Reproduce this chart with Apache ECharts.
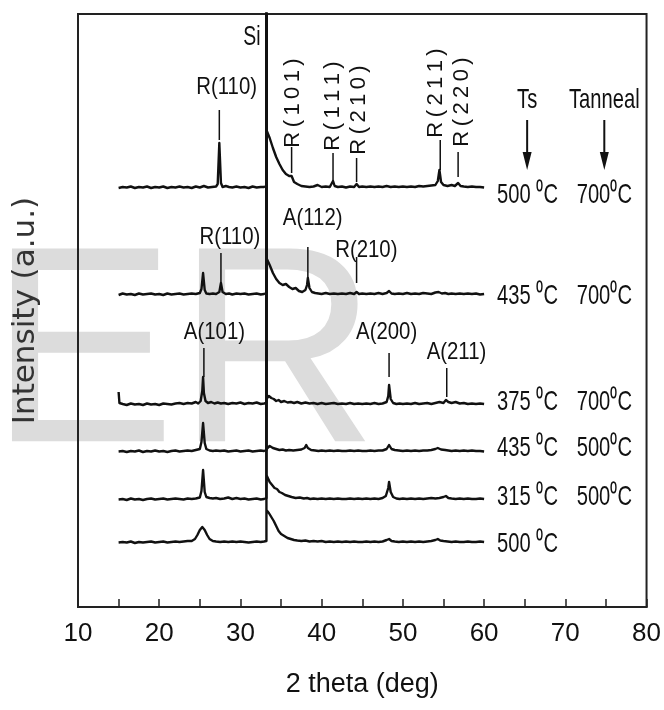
<!DOCTYPE html>
<html>
<head>
<meta charset="utf-8">
<script src="https://cdn.jsdelivr.net/npm/echarts@6/dist/echarts.min.js"></script>
<style>
    html, body { margin: 0; padding: 0; background: #fff; }
    #xrd_chart { width: 664px; height: 710px; }
</style>
</head>
<body>
<div id="xrd_chart"></div>
<script>
// XRD 图谱 数据 (强度 = 基线以上的计数)
var xrd_500_700 = [[15,0],[15.5,1],[16,0.5],[16.5,1.5],[17,0],[17.5,1],[18,0.5],[18.5,1.5],[19,0],[19.5,1],[20,0.5],[20.5,1.5],[21,0],[21.5,1],[22,0.5],[22.5,1.5],[23,0.5],[23.5,1],[24,0],[24.5,1.5],[25,0.5],[25.5,2],[26,0.5],[26.5,1],[27,1.5],[27.2,4],[27.4,45],[27.6,5],[27.8,1],[28.2,2],[28.6,1],[29,0.5],[29.5,1.5],[30,0.5],[30.5,1],[31,0],[31.5,1.5],[32,0.5],[32.5,1],[32.9,1],[33.2,2],[33.2,600],[33.2,58],[33.6,50],[34,40],[34.4,31],[34.8,24],[35.2,18],[35.6,14],[36,12],[36.3,12],[36.6,6],[37,4],[37.5,2],[38,1.5],[38.5,1],[39,1.5],[39.5,3],[40,1],[40.5,1.5],[41,1],[41.2,2],[41.4,7],[41.6,2],[42,1],[42.5,1.5],[43,0.5],[43.5,1.5],[44,1],[44.3,4],[44.6,1],[45,1.5],[45.5,1],[46,1.5],[46.5,1],[47,1.5],[47.5,1],[48,2],[48.5,1],[49,1.5],[49.5,1],[50,1.5],[50.5,1],[51,1.5],[51.5,1],[52,2],[52.5,1.5],[53,2],[53.5,2.5],[54,3],[54.3,7],[54.5,18],[54.7,6],[55,3],[55.5,2],[56,3],[56.4,2],[56.8,5],[57.1,2],[57.5,1.5],[58,1],[58.5,1.5],[59,1],[59.5,1],[60,0.5]];
var xrd_435_700 = [[15,0],[15.5,1.5],[16,0.5],[16.5,1],[17,0],[17.5,1.5],[18,0.5],[18.5,1],[19,1.5],[19.5,0.5],[20,1],[20.5,0],[21,1.5],[21.5,0.5],[22,1],[22.5,1.5],[23,0.5],[23.5,1],[24,1.5],[24.5,1],[25,2],[25.2,6],[25.4,22],[25.6,5],[25.8,1.5],[26.2,1],[26.6,1.5],[27,1],[27.4,3],[27.6,12],[27.8,3],[28.2,1],[28.6,1.5],[29,0.5],[29.5,1.5],[30,1],[30.5,1.5],[31,0.5],[31.5,1],[32,1.5],[32.5,0.5],[32.9,1],[33.2,2],[33.2,600],[33.2,37],[33.6,30],[34,22],[34.4,16],[34.8,12],[35.2,10],[35.6,11],[36,8],[36.4,6],[36.8,7],[37.2,4],[37.6,3],[38,5],[38.2,10],[38.3,17],[38.5,7],[38.8,3],[39.2,2],[39.6,1.5],[40,1],[40.5,2],[41,1],[41.5,1.5],[42,1],[42.5,1.5],[43,1],[43.5,2],[44,1],[44.3,3],[44.6,1],[45,1.5],[45.5,1],[46,1.5],[46.5,1],[47,2],[47.5,1],[48,2],[48.3,4],[48.6,1.5],[49,1],[49.5,1.5],[50,1],[50.5,2],[51,1],[51.5,1.5],[52,1],[52.5,2],[53,1.5],[53.5,1],[54,2.5],[54.4,3],[54.8,1.5],[55.2,2],[55.6,1],[56,1.5],[56.5,1],[57,1.5],[57.5,1],[58,1.5],[58.5,1],[59,1.5],[59.5,0.5],[60,1]];
var xrd_375_700 = [[15,13],[15.1,2],[15.5,1],[16,0],[16.5,1.5],[17,0.5],[17.5,1],[18,0],[18.5,1.5],[19,0.5],[19.5,1],[20,0],[20.5,1.5],[21,1],[21.5,0.5],[22,1.5],[22.5,2],[23,1],[23.5,2],[24,1.5],[24.5,3],[24.8,1.5],[25.1,4],[25.3,14],[25.4,28],[25.5,12],[25.7,4],[26,2],[26.4,3],[26.8,1.5],[27.2,2.5],[27.6,1.5],[28,2],[28.5,1],[29,2],[29.5,1.5],[30,2.5],[30.5,1],[31,2],[31.5,1.5],[32,2.5],[32.5,1],[32.9,1.5],[33.2,2],[33.2,600],[33.2,6],[33.5,9],[33.8,7],[34.1,6],[34.4,4],[34.7,5],[35,3],[35.4,4],[35.8,2.5],[36.2,3],[36.6,2],[37,3],[37.5,1.5],[38,2.5],[38.5,1.5],[39,2],[39.5,1],[40,2],[40.5,1],[41,1.5],[41.5,2],[42,1],[42.5,1.5],[43,1],[43.5,2],[44,1],[44.5,1.5],[45,1],[45.5,1.5],[46,1],[46.5,2],[47,1],[47.5,1.5],[48,3],[48.2,9],[48.3,20],[48.5,6],[48.8,2],[49.2,1],[49.6,1.5],[50,1],[50.5,1.5],[51,1],[51.5,2],[52,1],[52.5,1.5],[53,2],[53.5,1],[54,2],[54.5,3],[55,2],[55.3,5],[55.4,7],[55.6,3],[56,2],[56.5,3],[57,1.5],[57.5,2],[58,1],[58.5,1.5],[59,1],[59.5,1.5],[60,1]];
var xrd_435_500 = [[15,0.5],[15.5,1],[16,0],[16.5,1],[17,0.5],[17.5,1.5],[18,0],[18.5,1],[19,0.5],[19.5,1.5],[20,0.5],[20.5,1],[21,0],[21.5,1],[22,1.5],[22.5,0.5],[23,1],[23.5,1.5],[24,1],[24.5,2],[25,3],[25.2,10],[25.4,29],[25.6,9],[25.8,3],[26.2,1.5],[26.6,1],[27,1.5],[27.5,1],[28,1.5],[28.5,0.5],[29,1],[29.5,1.5],[30,0.5],[30.5,1],[31,1.5],[31.5,0.5],[32,1],[32.5,1.5],[32.9,1],[33.2,2],[33.2,600],[33.2,3],[33.6,6],[34,4],[34.4,3],[34.8,2],[35.2,2.5],[35.6,1.5],[36,2],[36.5,1.5],[37,2],[37.5,2.5],[37.9,4],[38.1,7],[38.3,4],[38.7,2],[39.2,1.5],[39.6,1],[40,1.5],[40.5,1],[41,1.5],[41.5,1],[42,1.5],[42.5,1],[43,1],[43.5,1.5],[44,1],[44.5,1.5],[45,1],[45.5,1],[46,1.5],[46.5,1],[47,1.5],[47.5,1.5],[48,3],[48.3,7],[48.6,3],[49,2],[49.5,1.5],[50,1],[50.5,1.5],[51,1],[51.5,1.5],[52,1],[52.5,1.5],[53,1.5],[53.5,2],[54,3],[54.3,4],[54.7,2.5],[55.2,2],[55.6,1.5],[56,1],[56.5,1.5],[57,1],[57.5,1.5],[58,1],[58.5,1.5],[59,1],[59.5,1],[60,0.5]];
var xrd_315_500 = [[15,0.5],[15.5,1],[16,0],[16.5,1.5],[17,0.5],[17.5,1],[18,0],[18.5,1],[19,1.5],[19.5,0.5],[20,1],[20.5,1.5],[21,0.5],[21.5,1],[22,1.5],[22.5,1],[23,0.5],[23.5,1.5],[24,1],[24.5,1.5],[25,2.5],[25.2,9],[25.4,30],[25.6,8],[25.8,3],[26.2,2],[26.6,1.5],[27,2],[27.5,1],[28,1.5],[28.5,2.5],[29,1],[29.5,2],[30,1],[30.5,1.5],[31,0.5],[31.5,1],[32,1.5],[32.5,0.5],[32.9,1],[33.2,2],[33.2,600],[33.2,25],[33.6,18],[33.9,15],[34.2,12],[34.5,11],[34.8,8],[35.1,7],[35.5,5],[35.9,4],[36.3,3],[36.8,2],[37.3,2.5],[37.8,1.5],[38.2,2],[38.6,1],[39,1.5],[39.5,1],[40,1.5],[40.5,1],[41,1.5],[41.5,1],[42,1.5],[42.5,1],[43,1],[43.5,1.5],[44,1],[44.5,1.5],[45,1],[45.5,1.5],[46,1],[46.5,1.5],[47,1],[47.5,2],[47.9,4],[48.2,12],[48.3,18],[48.5,8],[48.8,3],[49.2,1.5],[49.6,1],[50,1.5],[50.5,1],[51,1.5],[51.5,1],[52,1.5],[52.5,1],[53,1.5],[53.5,2],[54,1.5],[54.5,2],[55,3],[55.3,4],[55.6,2],[56,1.5],[56.5,1],[57,1.5],[57.5,1],[58,1.5],[58.5,1],[59,1],[59.5,1.5],[60,1]];
var xrd_500 = [[15,0.5],[15.5,1],[16,0.5],[16.5,1.5],[17,0],[17.5,1],[18,0.5],[18.5,1],[19,1.5],[19.5,0.5],[20,1],[20.5,1.5],[21,0.5],[21.5,1],[22,1.5],[22.5,1],[23,1.5],[23.5,2],[24,2],[24.4,4],[24.7,8],[25,13],[25.3,16],[25.6,13],[25.9,8],[26.2,4],[26.6,2],[27,1.5],[27.5,1],[28,1.5],[28.5,1],[29,1.5],[29.5,1],[30,1.5],[30.5,1],[31,0.5],[31.5,1],[32,1.5],[32.5,1],[32.9,1.5],[33.2,2],[33.2,600],[33.2,33],[33.5,30],[33.8,26],[34.1,22],[34.4,17],[34.7,12],[35,9],[35.4,7],[35.8,5],[36.2,4],[36.6,3],[37,2.5],[37.5,2],[38,2.5],[38.5,1.5],[39,2],[39.5,1.5],[40,2],[40.5,1],[41,1.5],[41.5,1],[42,1.5],[42.5,1],[43,1.5],[43.5,1],[44,1.5],[44.5,1],[45,1],[45.5,1.5],[46,1],[46.5,1.5],[47,1],[47.5,1.5],[48,3],[48.3,4],[48.6,2],[49,1.5],[49.5,1],[50,1.5],[50.5,1],[51,1.5],[51.5,1],[52,1.5],[52.5,1],[53,1.5],[53.5,2],[54,3],[54.3,4],[54.6,2.5],[55,2],[55.5,1.5],[56,1],[56.5,1.5],[57,1],[57.5,1],[58,1.5],[58.5,1],[59,1],[59.5,1.5],[60,1]];

// 各曲线 垂直偏移 (堆叠)
var traceOffset = [419, 312, 202, 155, 107, 64];

// 温度标注
var tsLabels = ['500 \u2070C', '435 \u2070C', '375 \u2070C', '435 \u2070C', '315 \u2070C', '500 \u2070C'];
var annealLabels = ['700\u2070C', '700\u2070C', '700\u2070C', '500\u2070C', '500\u2070C', ''];
var tempLabelY = [412, 311, 205, 159, 110, 63];

// 峰 标注
var peakNames = ['Si', 'R(110)', 'R(101)', 'R(111)', 'R(210)', 'R(211)', 'R(220)', 'R(110)', 'A(112)', 'R(210)', 'A(101)', 'A(200)', 'A(211)'];
var peakTheta = [null, 27.4, 36.3, 41.4, 44.3, 54.6, 56.8, 27.6, 38.3, 44.3, 25.5, 48.3, 55.4];
var tickLow = [null, 467, 434, 425, 425, 437, 430, 325, 329, 324, 230, 230, 210];
var tickHigh = [null, 497, 460, 454, 449, 467, 455, 354, 360, 350, 259, 254, 239];
var labelTheta = [31.4, 28.3, 36.5, 41.4, 44.6, 54.1, 57.3, 28.7, 38.9, 45.5, 26.8, 48.0, 56.6];
var labelY = [569, 520, 504, 501, 497, 514, 505, 370, 389, 357, 275, 275, 255];
var labelVertical = [0, 0, 1, 1, 1, 1, 1, 0, 0, 0, 0, 0, 0];

// x 轴
var xMin = 10, xMax = 80, xStep = 5;

var SANS = '"Liberation Sans", Arial, sans-serif';
var INK = '#111';

var traces = [xrd_500_700, xrd_435_700, xrd_375_700, xrd_435_500, xrd_315_500, xrd_500];
var series = [];
for (var i = 0; i < traces.length; i++) {
    var pts = [];
    for (var j = 0; j < traces[i].length; j++) {
        pts.push([traces[i][j][0], traces[i][j][1] + traceOffset[i]]);
    }
    series.push({
        type: 'line',
        data: pts,
        symbol: 'none',
        clip: true,
        z: 3,
        lineStyle: { color: INK, width: 2.4, join: 'round' }
    });
}

function spaced(s) {
    return s.split('').join('\u2009');
}

// 峰标注: 竖线 + 文字
series.push({
    type: 'custom',
    z: 4,
    data: peakNames.map(function(n, k) { return [labelTheta[k], labelY[k]]; }),
    renderItem: function(params, api) {
        var k = params.dataIndex;
        var children = [];
        if (peakTheta[k] != null) {
            var p0 = api.coord([peakTheta[k], tickLow[k]]);
            var p1 = api.coord([peakTheta[k], tickHigh[k]]);
            children.push({
                type: 'line',
                shape: { x1: p0[0], y1: p0[1], x2: p1[0], y2: p1[1] },
                style: { stroke: INK, lineWidth: 1.5 }
            });
        }
        var lp = api.coord([labelTheta[k], labelY[k]]);
        var vert = labelVertical[k] === 1;
        var isSi = peakNames[k] === 'Si';
        children.push({
            type: 'text',
            x: lp[0],
            y: lp[1],
            rotation: vert ? Math.PI / 2 : 0,
            scaleX: vert ? 1 : (isSi ? 0.72 : 0.85),
            style: {
                text: vert ? spaced(peakNames[k]) : peakNames[k],
                font: (vert ? '22px ' : (isSi ? '27px ' : '24px ')) + SANS,
                fill: INK,
                align: 'center',
                verticalAlign: 'middle'
            }
        });
        return { type: 'group', children: children };
    }
});

// Ts / Tanneal 标题 + 箭头
var headNames = ['Ts', 'Tanneal'];
var headTheta = [65.3, 74.8];
series.push({
    type: 'custom',
    z: 4,
    data: headTheta.map(function(t) { return [t, 507]; }),
    renderItem: function(params, api) {
        var k = params.dataIndex;
        var t = api.coord([headTheta[k], 507]);
        var a0 = api.coord([headTheta[k], 487]);
        var a1 = api.coord([headTheta[k], 437]);
        return {
            type: 'group',
            children: [{
                type: 'text', x: t[0], y: t[1], scaleX: 0.72,
                style: { text: headNames[k], font: '28px ' + SANS, fill: INK, align: 'center', verticalAlign: 'middle' }
            }, {
                type: 'line',
                shape: { x1: a0[0], y1: a0[1], x2: a1[0], y2: a1[1] - 14 },
                style: { stroke: INK, lineWidth: 2 }
            }, {
                type: 'polygon',
                shape: { points: [[a1[0] - 4.5, a1[1] - 18], [a1[0] + 4.5, a1[1] - 18], [a1[0], a1[1]]] },
                style: { fill: INK }
            }]
        };
    }
});

// 温度 文字
series.push({
    type: 'custom',
    z: 4,
    data: tempLabelY.map(function(y) { return [61.6, y]; }),
    renderItem: function(params, api) {
        var k = params.dataIndex;
        var p = api.coord([61.6, tempLabelY[k]]);
        var q = api.coord([71.4, tempLabelY[k]]);
        return {
            type: 'group',
            children: [{
                type: 'text', x: p[0], y: p[1], scaleX: 0.72,
                style: { text: tsLabels[k], font: '28px ' + SANS, fill: INK, align: 'left', verticalAlign: 'middle' }
            }, {
                type: 'text', x: q[0], y: q[1], scaleX: 0.72,
                style: { text: annealLabels[k], font: '28px ' + SANS, fill: INK, align: 'left', verticalAlign: 'middle' }
            }]
        };
    }
});

var myChart = echarts.init(document.getElementById('xrd_chart'));
var option = {
    animation: false,
    backgroundColor: '#fff',
    grid: {
        left: 78, right: 16, top: 14, bottom: 103,
        show: true, borderColor: '#222', borderWidth: 2
    },
    graphic: [
        { type: 'text', x: -11, y: 364, z: -10, silent: true,
          style: { text: 'E', font: '280px ' + SANS, fill: '#dcdcdc', align: 'left', verticalAlign: 'middle' } },
        { type: 'text', x: 176, y: 364, z: -10, silent: true,
          style: { text: 'R', font: '280px ' + SANS, fill: '#dcdcdc', align: 'left', verticalAlign: 'middle' } }
    ],
    xAxis: {
        type: 'value',
        min: xMin, max: xMax, interval: xStep,
        name: '2 theta (deg)',
        nameLocation: 'middle',
        nameGap: 64,
        nameTextStyle: { fontSize: 27, fontFamily: SANS, color: INK },
        axisLine: { lineStyle: { color: '#222', width: 2 } },
        axisTick: { inside: true, length: 8, lineStyle: { color: '#222', width: 1.5 } },
        axisLabel: {
            margin: 14, fontSize: 26, fontFamily: SANS, color: INK,
            formatter: function(v) { return v % 10 === 0 ? v : ''; }
        },
        splitLine: { show: false }
    },
    yAxis: {
        type: 'value',
        min: 0, max: 593,
        name: 'Intensity (a.u.)',
        nameLocation: 'middle',
        nameGap: 37,
        nameTextStyle: { fontSize: 31, fontFamily: '"DejaVu Sans", sans-serif', color: '#333' },
        axisLine: { show: true, lineStyle: { color: '#222', width: 2 } },
        axisTick: { show: false },
        axisLabel: { show: false },
        splitLine: { show: false }
    },
    series: series
};
myChart.setOption(option);
</script>
</body>
</html>
